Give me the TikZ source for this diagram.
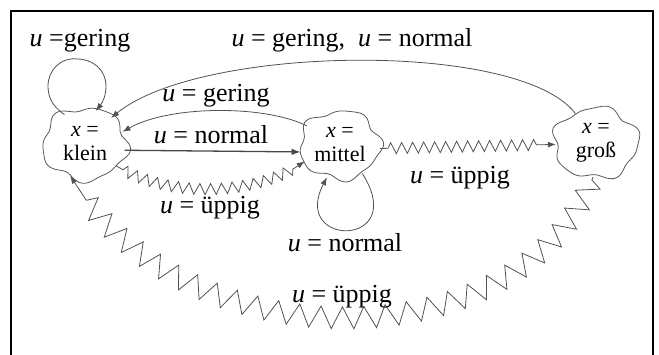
\documentclass[tikz,border=0pt]{standalone}
\usepackage{fontspec}
\setmainfont{Liberation Serif}
\usetikzlibrary{shapes.geometric,arrows.meta,decorations.pathmorphing}
\tikzset{
  state/.style={ellipse, draw=none, minimum width=80pt, minimum height=68pt, inner sep=0pt, align=center, font=\fontsize{22}{24}\selectfont},
  nodeline/.style={draw=black!65, line width=0.8pt},
  edge/.style={draw=black!68, line width=0.8pt, -{Latex[length=8pt,width=6pt]}},
  thickedge/.style={draw=black!72, line width=1.3pt, -{Latex[length=9pt,width=6.5pt]}},
  zz/.style={edge, decorate, decoration={zigzag, segment length=11pt, amplitude=5.5pt, pre length=8pt, post length=14pt}},
  bigzz/.style={edge, decorate, decoration={zigzag, segment length=22pt, amplitude=11pt, pre length=3pt, post length=28pt}},
  lbl/.style={font=\fontsize{26}{28}\selectfont, inner sep=0pt}
}
\newcommand\blobshape[4]{%
  \begin{scope}[shift={(#1)}]
    \draw[nodeline] plot[smooth cycle, samples=48, domain=0:352.5, variable=\t]
      ({#2*(1+0.07*sin(5*\t+#4)+0.04*sin(8*\t+2*#4))*cos(\t)},
       {#3*(1+0.07*sin(5*\t+#4)+0.04*sin(8*\t+2*#4))*sin(\t)});
  \end{scope}}
\begin{document}
\begin{tikzpicture}[x=1pt, y=-1pt]
\useasboundingbox (0,0) rectangle (659,355);
% frame
\draw[line width=2.5pt] (11,356) -- (11,11) -- (653,11) -- (653,356);
% nodes
\node[state] (k) at (85,144) {{\itshape x} =\\klein};
\node[state] (m) at (340,145) {{\itshape x} =\\mittel};
\node[state] (g) at (596,143) {{\itshape x} =\\groß};
\blobshape{k}{42}{36}{20}
\blobshape{m}{40}{34}{70}
\blobshape{g}{42}{35}{140}
% edges
\draw[edge] (k.125) .. controls (52,106) and (48,97) .. (48,86) .. controls (48,70) and (61,57) .. (77,59) .. controls (93,59) and (106,70) .. (106,86) .. controls (106,95) and (103,102) .. (k.72);
\draw[edge] (g.125) .. controls (520,40) and (200,45) .. (k.45);
\draw[edge] (m.150) .. controls (265,105) and (170,105) .. (k.18);
\draw[thickedge] (k.-9) -- (m.190);
\draw[zz] (k.-35) .. controls (170,200) and (260,195) .. (m.205);
\draw[zz] (m.-5) -- (g.182);
\draw[edge] (m.-52) .. controls (410,248) and (290,248) .. (m.-112);
\draw[bigzz] (g.-95) .. controls (520,365) and (180,365) .. (k.-115);
% labels
\node[lbl] (l1) at (80,41) {{\itshape u} =gering};
\node[lbl] (l2) at (352,40) {{\itshape u} = gering,\ \ {\itshape u} = normal};
\node[lbl] (l3) at (216,96) {{\itshape u} = gering};
\node[lbl] (l4) at (211,135) {{\itshape u} = normal};
\node[lbl] (l5) at (210,208) {{\itshape u} = üppig};
\node[lbl] (l6) at (460,178) {{\itshape u} = üppig};
\node[lbl] (l7) at (345,243) {{\itshape u} = normal};
\node[lbl] (l8) at (342,297) {{\itshape u} = üppig};
\end{tikzpicture}
\end{document}
